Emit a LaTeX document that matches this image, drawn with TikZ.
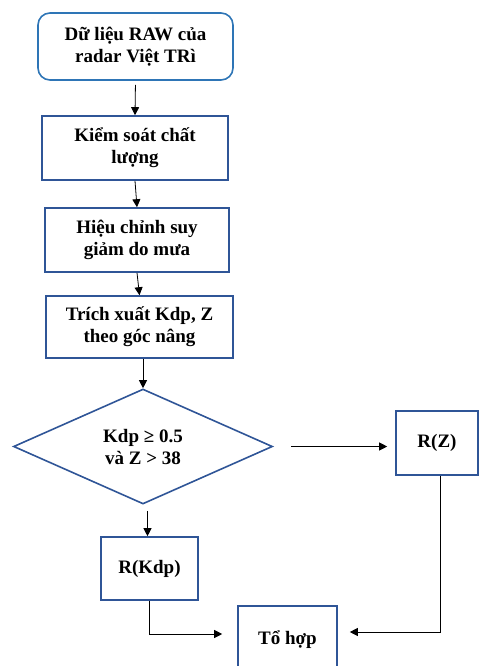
\documentclass[tikz,border=0pt]{standalone}
\usepackage{fontspec}
\setmainfont{Liberation Serif}
\usepackage{tikz}
\usetikzlibrary{arrows.meta, shapes.geometric}
\usepackage{xcolor}
\definecolor{boxblue}{RGB}{47,85,151}
\definecolor{startblue}{RGB}{46,117,182}

\begin{document}
\begin{tikzpicture}[x=1pt, y=-1pt,
    font=\fontsize{19}{22}\selectfont\bfseries,
    stepbox/.style={draw=boxblue, line width=1.6pt, align=center, inner sep=2pt},
    startbox/.style={draw=startblue, line width=1.6pt, rounded corners=12pt, align=center, minimum width=195pt, minimum height=67pt},
    decision/.style={diamond, draw=boxblue, line width=1.6pt, align=center, aspect=2.25, inner sep=0pt, minimum width=259pt, minimum height=115pt},
    flow/.style={-{Triangle[length=8pt, width=8pt]}, line width=0.8pt}]
    \useasboundingbox (0,0) rectangle (479,666);
    \clip (0,0) rectangle (479,666);
    \node[startbox] (raw) at (135.5,46.5) {Dữ liệu RAW của\\radar Việt TRì};
    \node[stepbox, minimum width=186pt, minimum height=64pt] (qc) at (135,148) {Kiểm soát chất\\lượng};
    \node[stepbox, minimum width=184pt, minimum height=64pt] (atten) at (137,240) {Hiệu chỉnh suy\\giảm do mưa};
    \node[stepbox, minimum width=187pt, minimum height=62pt] (extract) at (139.5,327) {Trích xuất Kdp, Z\\theo góc nâng};
    \node[decision] (cond) at (143,446.5) {Kdp ≥ 0.5\\và Z > 38};
    \node[stepbox, minimum width=82pt, minimum height=64pt] (rz) at (437,443) {R(Z)};
    \node[stepbox, minimum width=97pt, minimum height=63pt] (rkdp) at (149.5,568.5) {R(Kdp)};
    \node[stepbox, minimum width=99pt, minimum height=68pt] (combine) at (287.5,640) {Tổ hợp};
    \draw[flow, shorten <=4pt] (raw.south) -- (qc.north);
    \draw[flow] (qc.south) -- (atten.north);
    \draw[flow] (atten.south) -- (extract.north);
    \draw[flow] (cond.north |- extract.south) -- (cond.north);
    \draw[flow, shorten <=18pt, shorten >=8pt] (cond.east) -- (cond.east -| rz.west);
    \draw[flow, shorten <=6pt] ([xshift=-2pt]rkdp.north |- cond.south) -- ([xshift=-2pt]rkdp.north);
    \draw[flow, shorten >=15pt] (rkdp.south) |- ([yshift=6pt]combine.west);
    \draw[flow, shorten >=12pt] ([xshift=3pt]rz.south) |- ([yshift=8pt]combine.east);
  \end{tikzpicture}
\end{document}
